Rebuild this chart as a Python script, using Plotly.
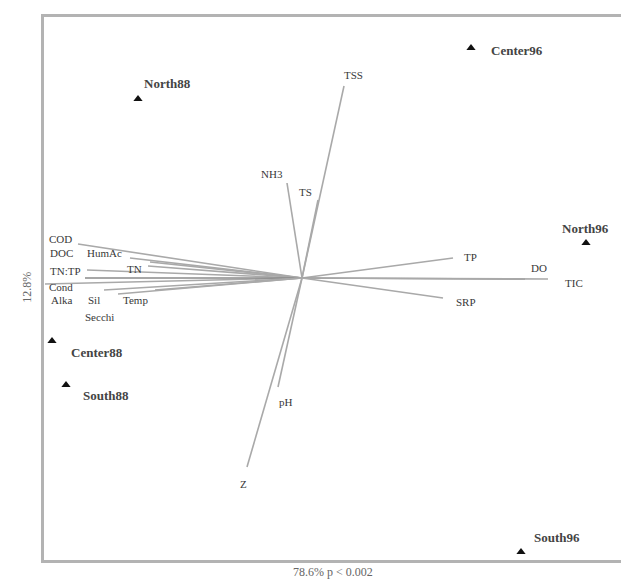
import plotly.graph_objects as go

# Sample (site/year) scores on the two constrained axes
site_names = ["North88", "Center96", "North96", "Center88", "South88", "South96"]
site_ax1 = [-1.64, 1.69, 2.84, -2.50, -2.36, 2.19]
site_ax2 = [1.79, 2.30, 0.35, -0.63, -1.07, -2.74]

# Environmental variable biplot scores
env_names = ["TSS", "NH3", "TS", "TP", "DO", "TIC", "SRP", "pH", "Z",
             "COD", "DOC", "HumAc", "TN:TP", "TN", "Cond", "Alka", "Sil", "Temp", "Secchi"]
env_ax1 = [0.42, -0.15, 0.16, 1.51, 2.23, 2.46, 1.41, -0.24, -0.55,
           -2.24, -1.72, -1.52, -2.15, -1.54, -2.57, -2.17, -1.98, -1.47, -1.84]
env_ax2 = [1.92, 0.95, 0.78, 0.20, -0.01, -0.01, -0.20, -1.09, -1.89,
           0.34, 0.20, 0.16, 0.08, 0.12, -0.06, 0.00, -0.12, -0.12, -0.16]

axis1_title = "78.6% p < 0.002"
axis2_title = "12.8%"

# label placement (pixel offsets from the arrow tip: dx right, dy down)
env_label_offset = {
    "TSS": (9, -11), "NH3": (-15, -9), "TS": (-13, -8), "TP": (17, -1),
    "DO": (14, -11), "TIC": (26, 4), "SRP": (23, 4), "pH": (8, 15), "Z": (-4, 17),
    "COD": (-18, -5), "DOC": (-69, -5), "HumAc": (-46, -9), "TN:TP": (-22, 1),
    "TN": (-14, 3), "Cond": (16, 3), "Alka": (-23, 22), "Sil": (-10, 10),
    "Temp": (-20, 10), "Secchi": (-19, 23),
}
site_label_offset = {
    "North88": (4, -16), "Center96": (18, 2), "North96": (-26, -15),
    "Center88": (17, 11), "South88": (15, 10), "South96": (11, -15),
}

SERIF = "Liberation Serif"
fig = go.Figure()

# arrows from the origin
for name, x, y in zip(env_names, env_ax1, env_ax2):
    col = "#8a8a8a" if name in ("DO", "Alka") else "#a9a9a9"
    fig.add_trace(go.Scatter(x=[0, x], y=[0, y], mode="lines",
                             line=dict(color=col, width=1.6),
                             hoverinfo="skip", showlegend=False))

# samples
fig.add_trace(go.Scatter(x=site_ax1, y=site_ax2, mode="markers",
                         marker=dict(symbol="triangle-up", size=8, color="#111111"),
                         hovertext=site_names, showlegend=False))

annotations = []
for name, x, y in zip(env_names, env_ax1, env_ax2):
    dx, dy = env_label_offset[name]
    annotations.append(dict(x=x, y=y, xref="x", yref="y", text=name, showarrow=False,
                            xshift=dx, yshift=-dy, xanchor="center", yanchor="middle",
                            font=dict(family=SERIF, size=11, color="#383838")))
for name, x, y in zip(site_names, site_ax1, site_ax2):
    dx, dy = site_label_offset[name]
    annotations.append(dict(x=x, y=y, xref="x", yref="y", text="<b>%s</b>" % name,
                            showarrow=False, xshift=dx, yshift=-dy,
                            xanchor="left", yanchor="middle",
                            font=dict(family=SERIF, size=13, color="#444444")))

annotations.append(dict(x=0.5, y=-0.022, xref="paper", yref="paper", text=axis1_title,
                        showarrow=False, xanchor="center", yanchor="middle",
                        font=dict(family=SERIF, size=12, color="#666666")))
annotations.append(dict(x=-0.0295, y=0.503, xref="paper", yref="paper", text=axis2_title,
                        showarrow=False, textangle=-90, xanchor="center", yanchor="middle",
                        font=dict(family=SERIF, size=12, color="#666666")))

fig.update_layout(
    width=621, height=586,
    margin=dict(l=44, r=0, t=17, b=26),
    paper_bgcolor="white", plot_bgcolor="white",
    annotations=annotations,
    xaxis=dict(range=[-2.58, 3.19], showgrid=False, zeroline=False, showticklabels=False,
               ticks="", showline=True, mirror=True, linecolor="#b3b3b3", linewidth=3),
    yaxis=dict(range=[-2.82, 2.61], showgrid=False, zeroline=False, showticklabels=False,
               ticks="", showline=True, mirror=False, linecolor="#b3b3b3", linewidth=3),
)

fig.write_html("out.html")
